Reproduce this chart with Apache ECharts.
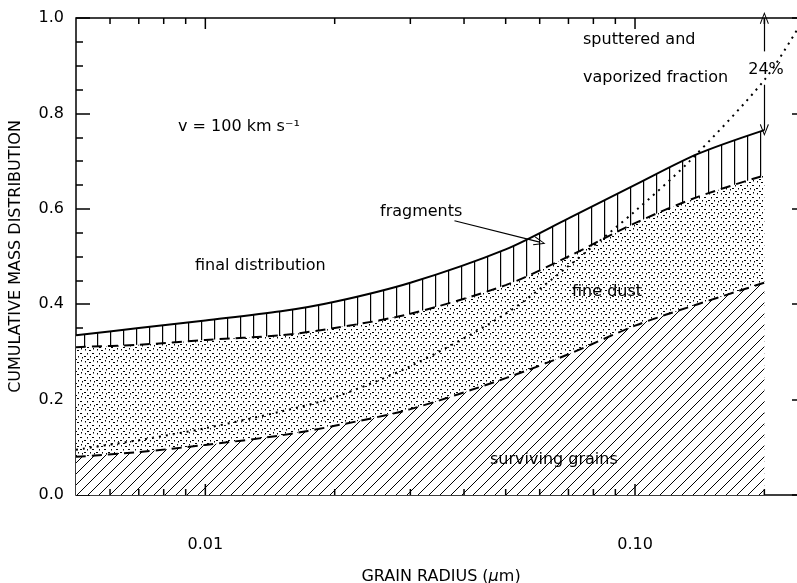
<!DOCTYPE html>
<html>
<head>
<meta charset="utf-8">
<script src="https://cdn.jsdelivr.net/npm/echarts@6/dist/echarts.min.js"></script>
<style>
  html, body { margin: 0; padding: 0; background: #fff; }
  #chart { width: 797px; height: 583px; }
</style>
</head>
<body>
<div id="chart"></div>
<script>
// Grain radius (micron) at which the distributions are sampled
const radius = [0.005, 0.007, 0.01, 0.015, 0.02, 0.03, 0.05, 0.07, 0.1, 0.14, 0.2];
// Final cumulative mass distribution (top of fragments band)
const finalDist = [0.335, 0.35, 0.366, 0.385, 0.405, 0.445, 0.515, 0.58, 0.65, 0.715, 0.765];
// Lower edge of the fragments band (top of fine dust)
const fragmentsBase = [0.31, 0.315, 0.325, 0.335, 0.35, 0.38, 0.44, 0.50, 0.57, 0.625, 0.67];
// Surviving grains
const surviving = [0.08, 0.09, 0.105, 0.125, 0.145, 0.18, 0.245, 0.295, 0.355, 0.40, 0.445];
// Initial distribution (dotted)
const initialRadius = [0.005, 0.007, 0.01, 0.015, 0.02, 0.03, 0.05, 0.07, 0.1, 0.134, 0.2, 0.24];
const initialDist = [0.095, 0.115, 0.14, 0.175, 0.205, 0.27, 0.38, 0.48, 0.595, 0.70, 0.87, 0.98];

// Axis ticks
const xMajorTicks = [0.01, 0.1];
const xMinorTicks = [0.006, 0.007, 0.008, 0.009, 0.02, 0.03, 0.04, 0.05, 0.06, 0.07, 0.08, 0.09, 0.2];
const yTickLabels = ['0.0', '0.2', '0.4', '0.6', '0.8', '1.0'];

const FONT = '"DejaVu Sans", "Liberation Sans", sans-serif';

function makeTile(w, h, draw) {
  const c = document.createElement('canvas');
  c.width = w; c.height = h;
  const g = c.getContext('2d');
  g.fillStyle = '#fff';
  g.fillRect(0, 0, w, h);
  g.fillStyle = '#000';
  g.strokeStyle = '#000';
  draw(g, w, h);
  return c;
}

// diagonal hatching for surviving grains
const hatchTile = makeTile(11, 11, (g, s) => {
  g.lineWidth = 1;
  g.beginPath();
  g.moveTo(-1, s + 1); g.lineTo(s + 1, -1);
  g.moveTo(-1, 1); g.lineTo(1, -1);
  g.moveTo(s - 1, s + 1); g.lineTo(s + 1, s - 1);
  g.stroke();
});

// stipple for fine dust
const dustTile = makeTile(12, 12, g => {
  [[1,1,1,1.5],[5,2,2,1],[9,0,1,1.5],[3,5,1,1.5],[8,5,2,1],
   [0,8,2,1],[6,8,1,1.5],[10,9,1,1.5],[3,11,2,1]].forEach(r => g.fillRect(r[0], r[1], r[2], r[3]));
});

// vertical bars for fragments
const barTile = makeTile(13, 6, g => {
  g.fillRect(6, 0, 1.2, 6);
});

const chevron = 'path://M0,12 L6,0 L12,12 L10.8,12.6 L6,2.6 L1.2,12.6 Z';

const pairs = (xs, ys) => xs.map((x, i) => [x, ys[i]]);

const chart = echarts.init(document.getElementById('chart'), null, { renderer: 'canvas' });

chart.setOption({
  animation: false,
  backgroundColor: '#fff',
  grid: {
    left: 76, top: 18, right: -9, bottom: 88,
    outerBoundsMode: 'none', containLabel: false,
    show: true, borderColor: '#000', borderWidth: 1.5, backgroundColor: 'transparent'
  },
  xAxis: [{
    type: 'log', logBase: 10, min: 0.005, max: 0.25, position: 'bottom',
    axisLine: { show: false }, axisTick: { show: false }, splitLine: { show: false },
    axisLabel: {
      showMinLabel: false, showMaxLabel: false, margin: 42,
      fontSize: 16, fontFamily: FONT, color: '#000',
      formatter: v => Number(v).toFixed(2)
    },
    name: 'GRAIN RADIUS ({it|μ}m)', nameLocation: 'middle', nameGap: 74,
    nameTextStyle: { fontSize: 16, fontFamily: FONT, color: '#000',
      rich: { it: { fontStyle: 'italic', fontSize: 16, fontFamily: FONT, color: '#000' } } }
  }, {
    type: 'log', logBase: 10, min: 0.005, max: 0.25, position: 'top',
    axisLine: { show: false }, axisTick: { show: false }, splitLine: { show: false },
    axisLabel: { show: false }
  }],
  yAxis: [{
    type: 'value', min: 0, max: 1, interval: 0.2, position: 'left',
    axisLine: { show: false },
    axisTick: { show: true, inside: true, length: 14, lineStyle: { color: '#000', width: 1.5 } },
    minorTick: { show: true, splitNumber: 4, length: 7, lineStyle: { color: '#000', width: 1.5 } },
    splitLine: { show: false },
    axisLabel: { margin: 12, fontSize: 16, fontFamily: FONT, color: '#000',
      formatter: v => yTickLabels[Math.round(v * 5)] },
    name: 'CUMULATIVE MASS DISTRIBUTION', nameLocation: 'middle', nameGap: 52,
    nameTextStyle: { fontSize: 16, fontFamily: FONT, color: '#000' }
  }, {
    type: 'value', min: 0, max: 1, interval: 0.2, position: 'right',
    axisLine: { show: false },
    axisTick: { show: true, inside: true, length: 14, lineStyle: { color: '#000', width: 1.5 } },
    minorTick: { show: true, splitNumber: 4, length: 7, lineStyle: { color: '#000', width: 1.5 } },
    splitLine: { show: false }, axisLabel: { show: false }
  }],
  series: [{
    name: 'final distribution', type: 'line', xAxisIndex: 0, yAxisIndex: 0,
    data: pairs(radius, finalDist), smooth: 0.3, symbol: 'none',
    lineStyle: { color: '#000', width: 2 },
    areaStyle: { color: { image: barTile, repeat: 'repeat' }, opacity: 1 },
    markLine: {
      silent: true, symbol: ['none', chevron], symbolSize: [9, 12],
      label: { show: false },
      lineStyle: { color: '#000', width: 1.2, type: 'solid' },
      data: [
        [{ coord: [0.038, 0.575] }, { coord: [0.06, 0.53] }],
        [{ coord: [0.2, 0.93] }, { coord: [0.2, 1.0] }],
        [{ coord: [0.2, 0.86] }, { coord: [0.2, 0.765] }]
      ]
    }
  }, {
    name: 'fine dust', type: 'line', xAxisIndex: 0, yAxisIndex: 0,
    data: pairs(radius, fragmentsBase), smooth: 0.3, symbol: 'none',
    lineStyle: { color: '#000', width: 2, type: [10, 6] },
    areaStyle: { color: { image: dustTile, repeat: 'repeat' }, opacity: 1 }
  }, {
    name: 'surviving grains', type: 'line', xAxisIndex: 0, yAxisIndex: 0,
    data: pairs(radius, surviving), smooth: 0.3, symbol: 'none',
    lineStyle: { color: '#000', width: 2, type: [10, 6] },
    areaStyle: { color: { image: hatchTile, repeat: 'repeat' }, opacity: 1 }
  }, {
    name: 'initial', type: 'line', xAxisIndex: 0, yAxisIndex: 0, z: 5,
    data: pairs(initialRadius, initialDist), smooth: 0.3, symbol: 'none',
    lineStyle: { color: '#000', width: 2, type: [2, 5] }
  }, {
    name: 'x ticks', type: 'custom', xAxisIndex: 0, yAxisIndex: 0, z: 6, silent: true,
    data: xMajorTicks.concat(xMinorTicks).map(v => [v, 0]),
    renderItem: (params, api) => {
      const v = api.value(0);
      const len = xMajorTicks.indexOf(v) >= 0 ? 11 : 6;
      const b = api.coord([v, 0]);
      const t = api.coord([v, 1]);
      const st = { stroke: '#000', lineWidth: 1.5 };
      return { type: 'group', children: [
        { type: 'line', shape: { x1: b[0], y1: b[1], x2: b[0], y2: b[1] - len }, style: st },
        { type: 'line', shape: { x1: t[0], y1: t[1], x2: t[0], y2: t[1] + len }, style: st }
      ] };
    }
  }],
  graphic: [
    ['v = 100 km s⁻¹', 178, 127, 'left'],
    ['final distribution', 195, 266, 'left'],
    ['fragments', 380, 212, 'left'],
    ['fine dust', 572, 292, 'left'],
    ['surviving grains', 490, 460, 'left'],
    ['sputtered and', 583, 40, 'left'],
    ['vaporized fraction', 583, 78, 'left'],
    ['24%', 766, 70, 'center']
  ].map(a => ({
    type: 'text', x: a[1], y: a[2], z: 10, silent: true,
    style: { text: a[0], fill: '#000', font: '16px ' + FONT, align: a[3], verticalAlign: 'middle' }
  }))
});
</script>
</body>
</html>
